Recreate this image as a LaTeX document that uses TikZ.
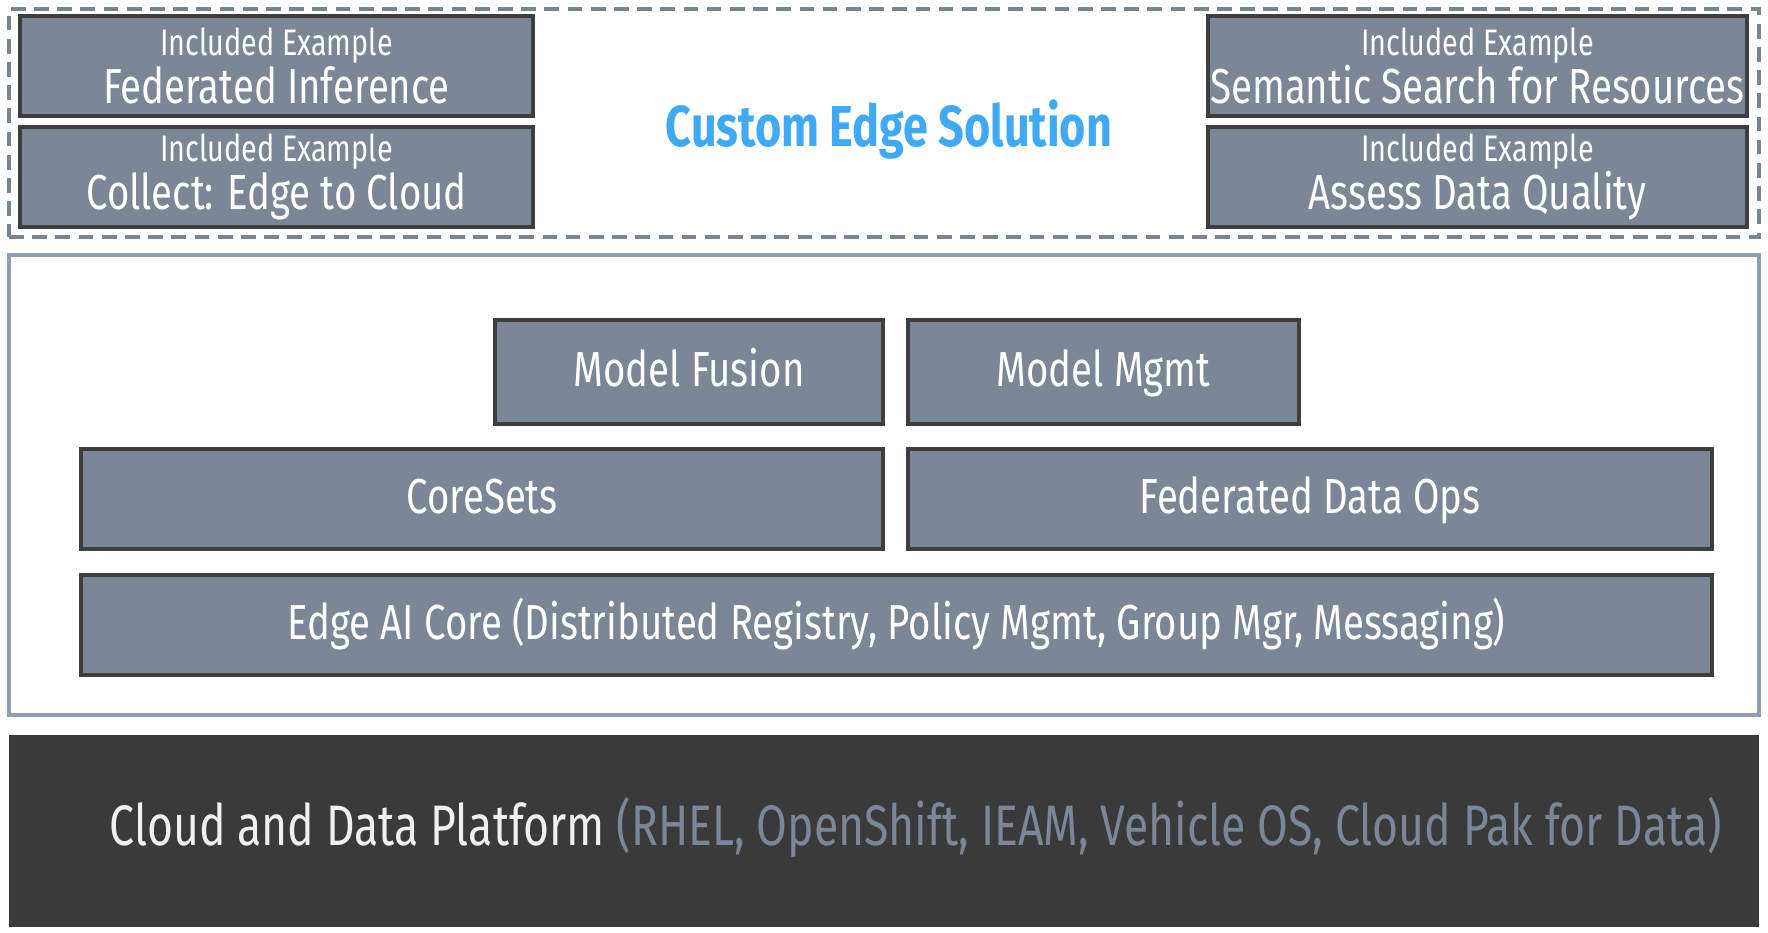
\documentclass[tikz,border=0pt]{standalone}
\usepackage{fontspec}
\setmainfont{Fira Sans}[FakeStretch=0.78]
\usetikzlibrary{positioning}
\definecolor{boxgray}{HTML}{7B8696}
\definecolor{boxedge}{HTML}{3E3E40}
\definecolor{framegray}{HTML}{8E9DB1}
\definecolor{dashgray}{HTML}{7A8594}
\definecolor{titleblue}{HTML}{3FA9F3}
\definecolor{platdark}{HTML}{3A3A3A}
\tikzstyle{block}=[rectangle,draw=boxedge,fill=boxgray,line width=1.3pt,text=white,inner sep=0pt,font=\fontsize{14}{14}\selectfont]
\tikzstyle{example}=[block,align=center,minimum height=1cm]
\tikzstyle{layer}=[block,minimum height=1cm,text height=1em,text depth=0.18em]
\newcommand{\incl}[1]{{\fontsize{10.5}{10.5}\selectfont Included Example}\\[-0.3pt]#1}

\begin{document}
\begin{tikzpicture}[x=1cm,y=1cm]
    \useasboundingbox (0,0) rectangle (17.68,9.32);

    % custom solution area
    \node[draw=dashgray,line width=1.1pt,dash pattern=on 4.2pt off 2.4pt,minimum width=17.5cm,minimum height=2.28cm,inner sep=0pt] (custom) at (8.84,8.09) {};
    \node[font=\bfseries\fontsize{16.4}{16.4}\selectfont,text=titleblue] (title) at (8.89,8.02) {Custom Edge Solution};

    \foreach \pos/\w/\name/\txt in {{(2.765,8.66)/5.13/fedinf/Federated Inference},
        {(2.765,7.55)/5.13/collect/Collect: Edge to Cloud},
        {(14.775,8.66)/5.39/semsearch/Semantic Search for Resources},
        {(14.775,7.55)/5.39/quality/Assess Data Quality}}
        \node[example,minimum width=\w cm] (\name) at \pos {\incl{\txt}};

    % edge ai stack
    \node[draw=framegray,line width=0.9pt,minimum width=17.5cm,minimum height=4.6cm,inner sep=0pt] (stack) at (8.84,4.47) {};

    \foreach \pos/\w/\h/\name/\txt in {{(6.89,5.60)/3.88/1.04/fusion/Model Fusion},
        {(11.035,5.60)/3.91/1.04/mgmt/Model Mgmt},
        {(4.82,4.33)/8.02/1.0/coresets/CoreSets},
        {(13.10,4.33)/8.04/1.0/dataops/Federated Data Ops},
        {(8.965,3.07)/16.31/1.0/aicore/Edge AI Core (Distributed Registry, Policy Mgmt, Group Mgr, Messaging)}}
        \node[layer,minimum width=\w cm,minimum height=\h cm] (\name) at \pos {\txt};

    % platform
    \node[fill=platdark,minimum width=17.5cm,minimum height=1.92cm,inner sep=0pt] (platform) at (8.84,1.01) {};
    \node[anchor=west,inner sep=0pt,font=\fontsize{16.25}{16.25}\selectfont] (platformtxt) at (1.09,1.05)
        {\textcolor{white!94!black}{Cloud and Data Platform} \textcolor{boxgray}{(RHEL, OpenShift, IEAM, Vehicle OS, Cloud Pak for Data)}};

\end{tikzpicture}
\end{document}
